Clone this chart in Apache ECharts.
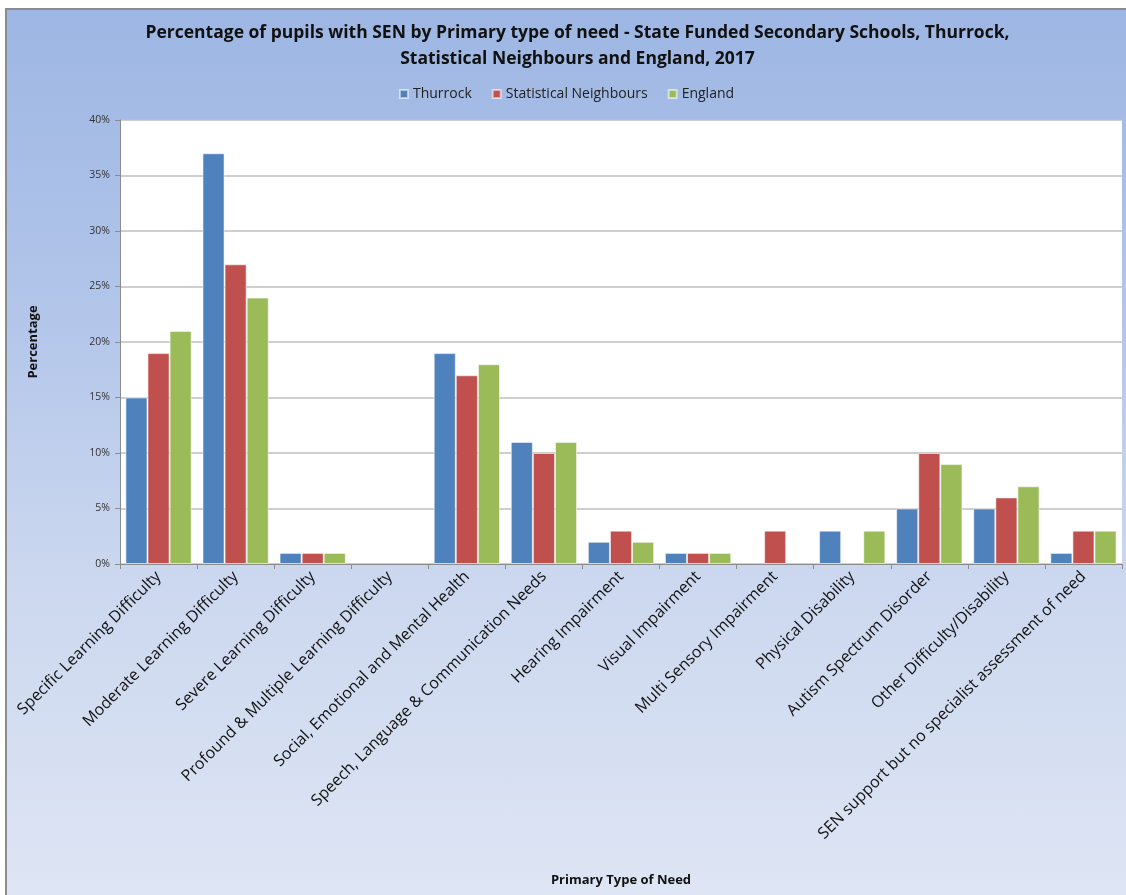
<!DOCTYPE html>
<html>
<head>
<meta charset="utf-8">
<script src="https://cdn.jsdelivr.net/npm/echarts@6/dist/echarts.min.js"></script>
<style>
  html, body { margin: 0; padding: 0; background: #ffffff; }
  #frame {
    position: absolute; left: 5px; top: 8px; width: 1121px; height: 887px;
    border-left: 2px solid #8c8c8c; border-top: 2px solid #8c8c8c;
    background: linear-gradient(to bottom, #9db6e3 0%, #b3c6ea 35%, #ccd8ef 65%, #dee5f4 100%);
    box-sizing: border-box;
  }
  #chart { width: 100%; height: 100%; }
</style>
</head>
<body>
<div id="frame"><div id="chart"></div></div>
<script>
// Primary type of need categories
const categories = [
  'Specific Learning Difficulty',
  'Moderate Learning Difficulty',
  'Severe Learning Difficulty',
  'Profound & Multiple Learning Difficulty',
  'Social, Emotional and Mental Health',
  'Speech, Language & Communication Needs',
  'Hearing Impairment',
  'Visual Impairment',
  'Multi Sensory Impairment',
  'Physical Disability',
  'Autism Spectrum Disorder',
  'Other Difficulty/Disability',
  'SEN support but no specialist assessment of need'
];

// Percentage of pupils with SEN, by area
const thurrock = [15, 37, 1, 0, 19, 11, 2, 1, 0, 3, 5, 5, 1];
const statNeighbours = [19, 27, 1, 0, 17, 10, 3, 1, 3, 0, 10, 6, 3];
const england = [21, 24, 1, 0, 18, 11, 2, 1, 0, 3, 9, 7, 3];

const seriesNames = ['Thurrock', 'Statistical Neighbours', 'England'];
const seriesColors = ['#4f81bd', '#c0504d', '#9bbb59'];

const titleLines = [
  'Percentage of pupils with SEN by Primary type of need - State Funded Secondary Schools, Thurrock,',
  'Statistical Neighbours and England, 2017'
];

const font = 'Open Sans, Noto Sans, sans-serif';
const chart = echarts.init(document.getElementById('chart'));
const centerX = 1121 / 2 + 10;

function barSeries(name, data, color) {
  return {
    name: name,
    type: 'bar',
    data: data.map(v => (v === 0 ? null : v)),
    barGap: '0%',
    barCategoryGap: '14%',
    itemStyle: { color: color, borderColor: 'rgba(255,255,255,0.55)', borderWidth: 1 }
  };
}

chart.setOption({
  backgroundColor: 'transparent',
  animation: false,
  graphic: titleLines.map((t, i) => ({
    type: 'text',
    x: centerX,
    y: 23 + i * 26,
    style: {
      text: t,
      fill: '#111',
      font: 'bold 17.5px ' + font,
      textAlign: 'center',
      textVerticalAlign: 'middle'
    }
  })),
  legend: {
    data: seriesNames,
    top: 72,
    left: 'center',
    itemWidth: 8,
    itemHeight: 8,
    itemGap: 20,
    icon: 'rect',
    textStyle: { fontFamily: font, fontSize: 14, color: '#222' }
  },
  grid: { left: 113, right: 4, top: 110, bottom: 331, backgroundColor: '#ffffff', show: true, borderWidth: 0 },
  xAxis: {
    type: 'category',
    data: categories,
    name: 'Primary Type of Need',
    nameLocation: 'middle',
    nameGap: 310,
    nameTextStyle: { fontFamily: font, fontSize: 13, fontWeight: 'bold', color: '#111' },
    axisLine: { lineStyle: { color: '#8c8c8c', width: 1 } },
    axisTick: { show: true, length: 5, lineStyle: { color: '#8c8c8c' } },
    axisLabel: { rotate: 45, interval: 0, fontFamily: font, fontSize: 16, color: '#111', margin: 10 }
  },
  yAxis: {
    type: 'value',
    min: 0,
    max: 40,
    interval: 5,
    name: 'Percentage',
    nameLocation: 'middle',
    nameGap: 80,
    nameTextStyle: { fontFamily: font, fontSize: 13, fontWeight: 'bold', color: '#111' },
    axisLine: { show: true, lineStyle: { color: '#8c8c8c' } },
    axisTick: { show: true, length: 5, lineStyle: { color: '#8c8c8c' } },
    axisLabel: { formatter: '{value}%', fontFamily: font, fontSize: 10.5, color: '#333', margin: 10 },
    splitLine: { lineStyle: { color: '#bfbfbf', width: 1.5 } }
  },
  series: [
    barSeries(seriesNames[0], thurrock, seriesColors[0]),
    barSeries(seriesNames[1], statNeighbours, seriesColors[1]),
    barSeries(seriesNames[2], england, seriesColors[2])
  ]
});
</script>
</body>
</html>
